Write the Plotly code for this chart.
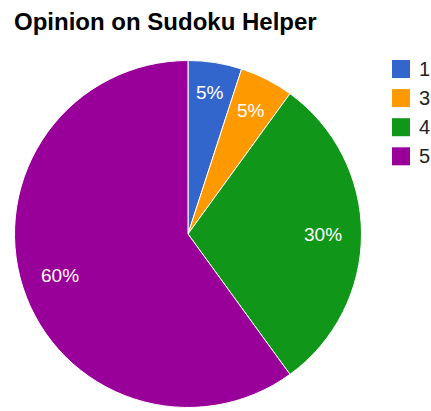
import math
import plotly.graph_objects as go

# Survey answers (rating -> number of responses)
ratings = ["1", "3", "4", "5"]
responses = [1, 1, 6, 12]
slice_colors = ["#3366cc", "#ff9900", "#109618", "#990099"]

title_text = "Opinion on Sudoku Helper"

W, H = 431, 411
FONT = "Liberation Sans, Arial, sans-serif"

# pie geometry in pixels
cx, cy, R = 188.0, 234.0, 173.5
dom_x = [(cx - R) / W, (cx + R) / W]
dom_y = [1 - (cy + R) / H, 1 - (cy - R) / H]

fig = go.Figure(
    go.Pie(
        labels=ratings,
        values=responses,
        sort=False,
        direction="clockwise",
        rotation=0,
        marker=dict(colors=slice_colors, line=dict(color="white", width=1)),
        textinfo="none",
        hoverinfo="label+percent",
        showlegend=False,
        domain=dict(x=dom_x, y=dom_y),
    )
)

annotations = []

# percentage labels placed along each slice's mid-angle
label_radius = [0.825, 0.80, 0.78, 0.775]
total = sum(responses)
start = 0.0
for i, v in enumerate(responses):
    frac = v / total
    mid = (start + frac / 2) * 2 * math.pi
    start += frac
    r = R * label_radius[i]
    px = cx + r * math.sin(mid)
    py = cy - r * math.cos(mid)
    annotations.append(dict(
        x=px / W, y=1 - py / H, xref="paper", yref="paper",
        text=f"{round(frac * 100)}%", showarrow=False,
        xanchor="center", yanchor="middle",
        font=dict(family=FONT, size=19, color="white"),
    ))

# title
annotations.append(dict(
    x=12 / W, y=1 - 6 / H, xref="paper", yref="paper",
    text=title_text, showarrow=False, xanchor="left", yanchor="top",
    font=dict(family=FONT, size=24, color="#000000", weight="bold"),
))

# legend drawn as swatches + labels
shapes = []
sq = 18
lx0 = 392
ly0 = 60
step = 29.1
for i, (lab, col) in enumerate(zip(ratings, slice_colors)):
    top = ly0 + i * step
    shapes.append(dict(
        type="rect", xref="paper", yref="paper",
        x0=lx0 / W, x1=(lx0 + sq) / W,
        y0=1 - (top + sq) / H, y1=1 - top / H,
        fillcolor=col, line=dict(width=0),
    ))
    annotations.append(dict(
        x=(lx0 + sq + 7) / W, y=1 - (top + sq / 2) / H,
        xref="paper", yref="paper", text=lab, showarrow=False,
        xanchor="left", yanchor="middle",
        font=dict(family=FONT, size=20, color="#222222"),
    ))

fig.update_layout(
    width=W, height=H,
    margin=dict(l=0, r=0, t=0, b=0),
    paper_bgcolor="white", plot_bgcolor="white",
    annotations=annotations, shapes=shapes,
)

fig.write_html("out.html")
